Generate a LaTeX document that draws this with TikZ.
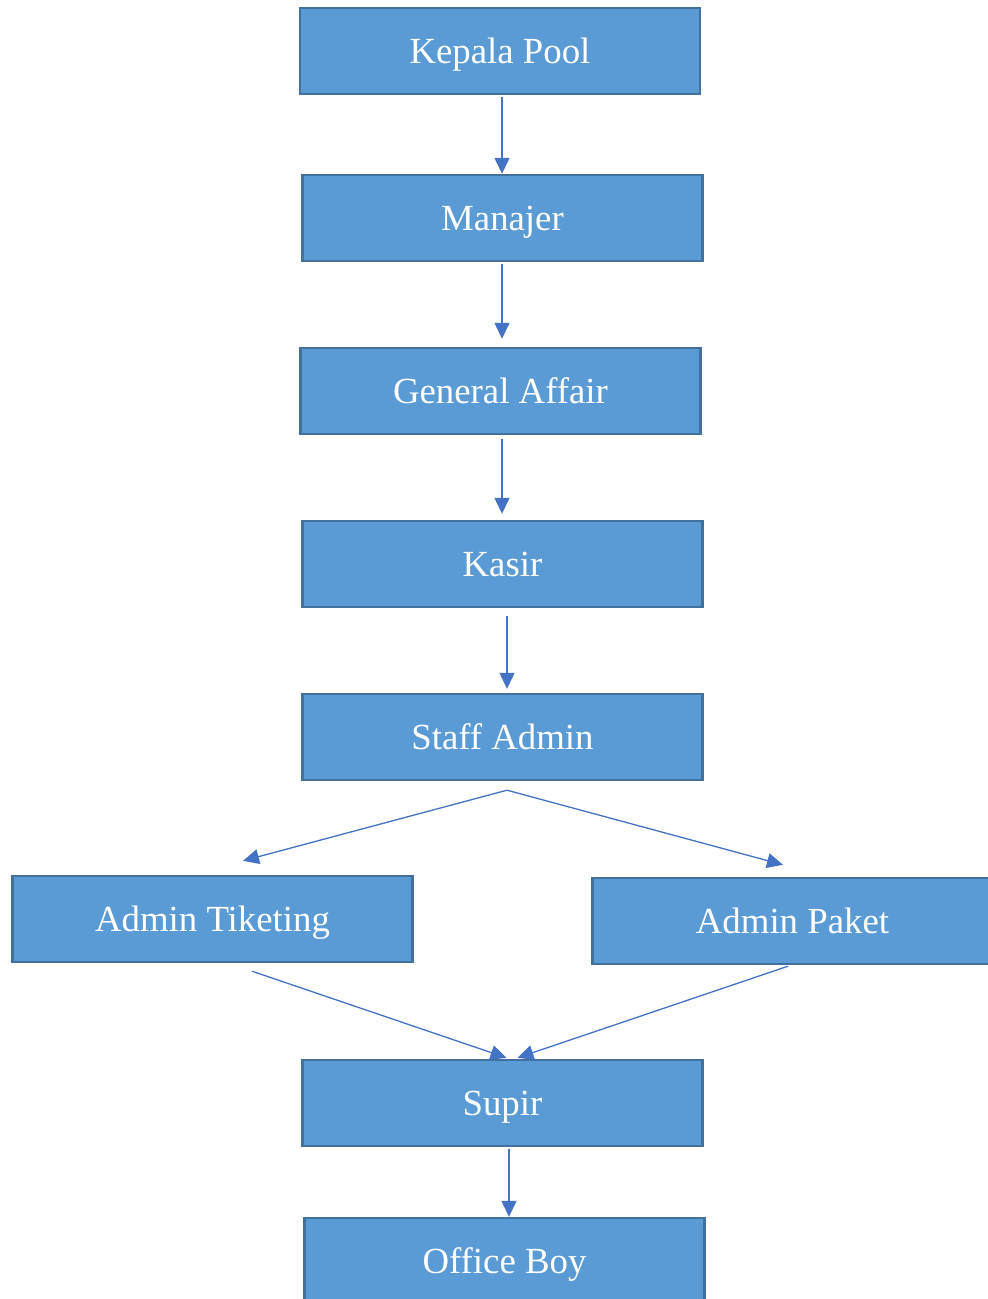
\documentclass[tikz,border=0pt]{standalone}
\usepackage{fontspec}
\setmainfont{Liberation Serif}
\usetikzlibrary{arrows.meta}
\definecolor{boxfill}{HTML}{5B9BD5}
\definecolor{boxedge}{HTML}{41719C}
\definecolor{linkblue}{HTML}{4472C4}
\tikzset{
  unit/.style={draw=boxedge, line width=2.4pt, fill=boxfill, text=white,
    minimum width=400pt, minimum height=86pt, inner sep=0pt,
    text height=24.3pt, text depth=0pt,
    font=\fontsize{36.8}{44}\selectfont},
  link/.style={draw=linkblue, line width=1.3pt,
    -{Triangle[width=15pt,length=16pt]}}
}
\begin{document}
\begin{tikzpicture}[x=1pt, y=-1pt]
  \useasboundingbox (0,0) rectangle (988,1299);
  \clip (0,0) rectangle (988,1299);

  % positions
  \node[unit] (kp) at (500,51) {Kepala Pool};
  \node[unit] (mj) at (502.5,218) {Manajer};
  \node[unit] (ga) at (500.5,391) {General Affair};
  \node[unit] (ks) at (502.5,564) {Kasir};
  \node[unit] (sa) at (502.5,737) {Staff Admin};
  \node[unit] (at) at (212.5,919) {Admin Tiketing};
  \node[unit] (ap) at (792.5,921) {Admin Paket};
  \node[unit] (sp) at (502.5,1103) {Supir};
  \node[unit] (ob) at (504.5,1261) {Office Boy};

  % reporting lines
  \draw[link] ([xshift=2pt,yshift=-2pt]kp.south) -- ([xshift=-0.5pt]mj.north);
  \draw[link] ([xshift=-0.5pt,yshift=-2pt]mj.south) -- ([xshift=1.5pt,yshift=8pt]ga.north);
  \draw[link] ([xshift=1.5pt,yshift=-4pt]ga.south) -- ([xshift=-0.5pt,yshift=6pt]ks.north);
  \draw[link] ([xshift=4.5pt,yshift=-8pt]ks.south) -- ([xshift=4.5pt,yshift=4pt]sa.north);

  \coordinate (fork) at ([xshift=4.5pt,yshift=-9pt]sa.south);
  \draw[link] (fork) -- ([xshift=30.5pt,yshift=14pt]at.north);
  \draw[link] (fork) -- ([xshift=-9.5pt,yshift=12pt]ap.north);

  \draw[link] ([xshift=39.5pt,yshift=-8pt]at.south) -- ([xshift=4pt,yshift=1pt]sp.north);
  \draw[link] ([xshift=-4.5pt,yshift=-1pt]ap.south) -- ([xshift=15pt,yshift=1pt]sp.north);

  \draw[link] ([xshift=6.5pt,yshift=-2pt]sp.south) -- ([xshift=4.5pt]ob.north);
\end{tikzpicture}
\end{document}
